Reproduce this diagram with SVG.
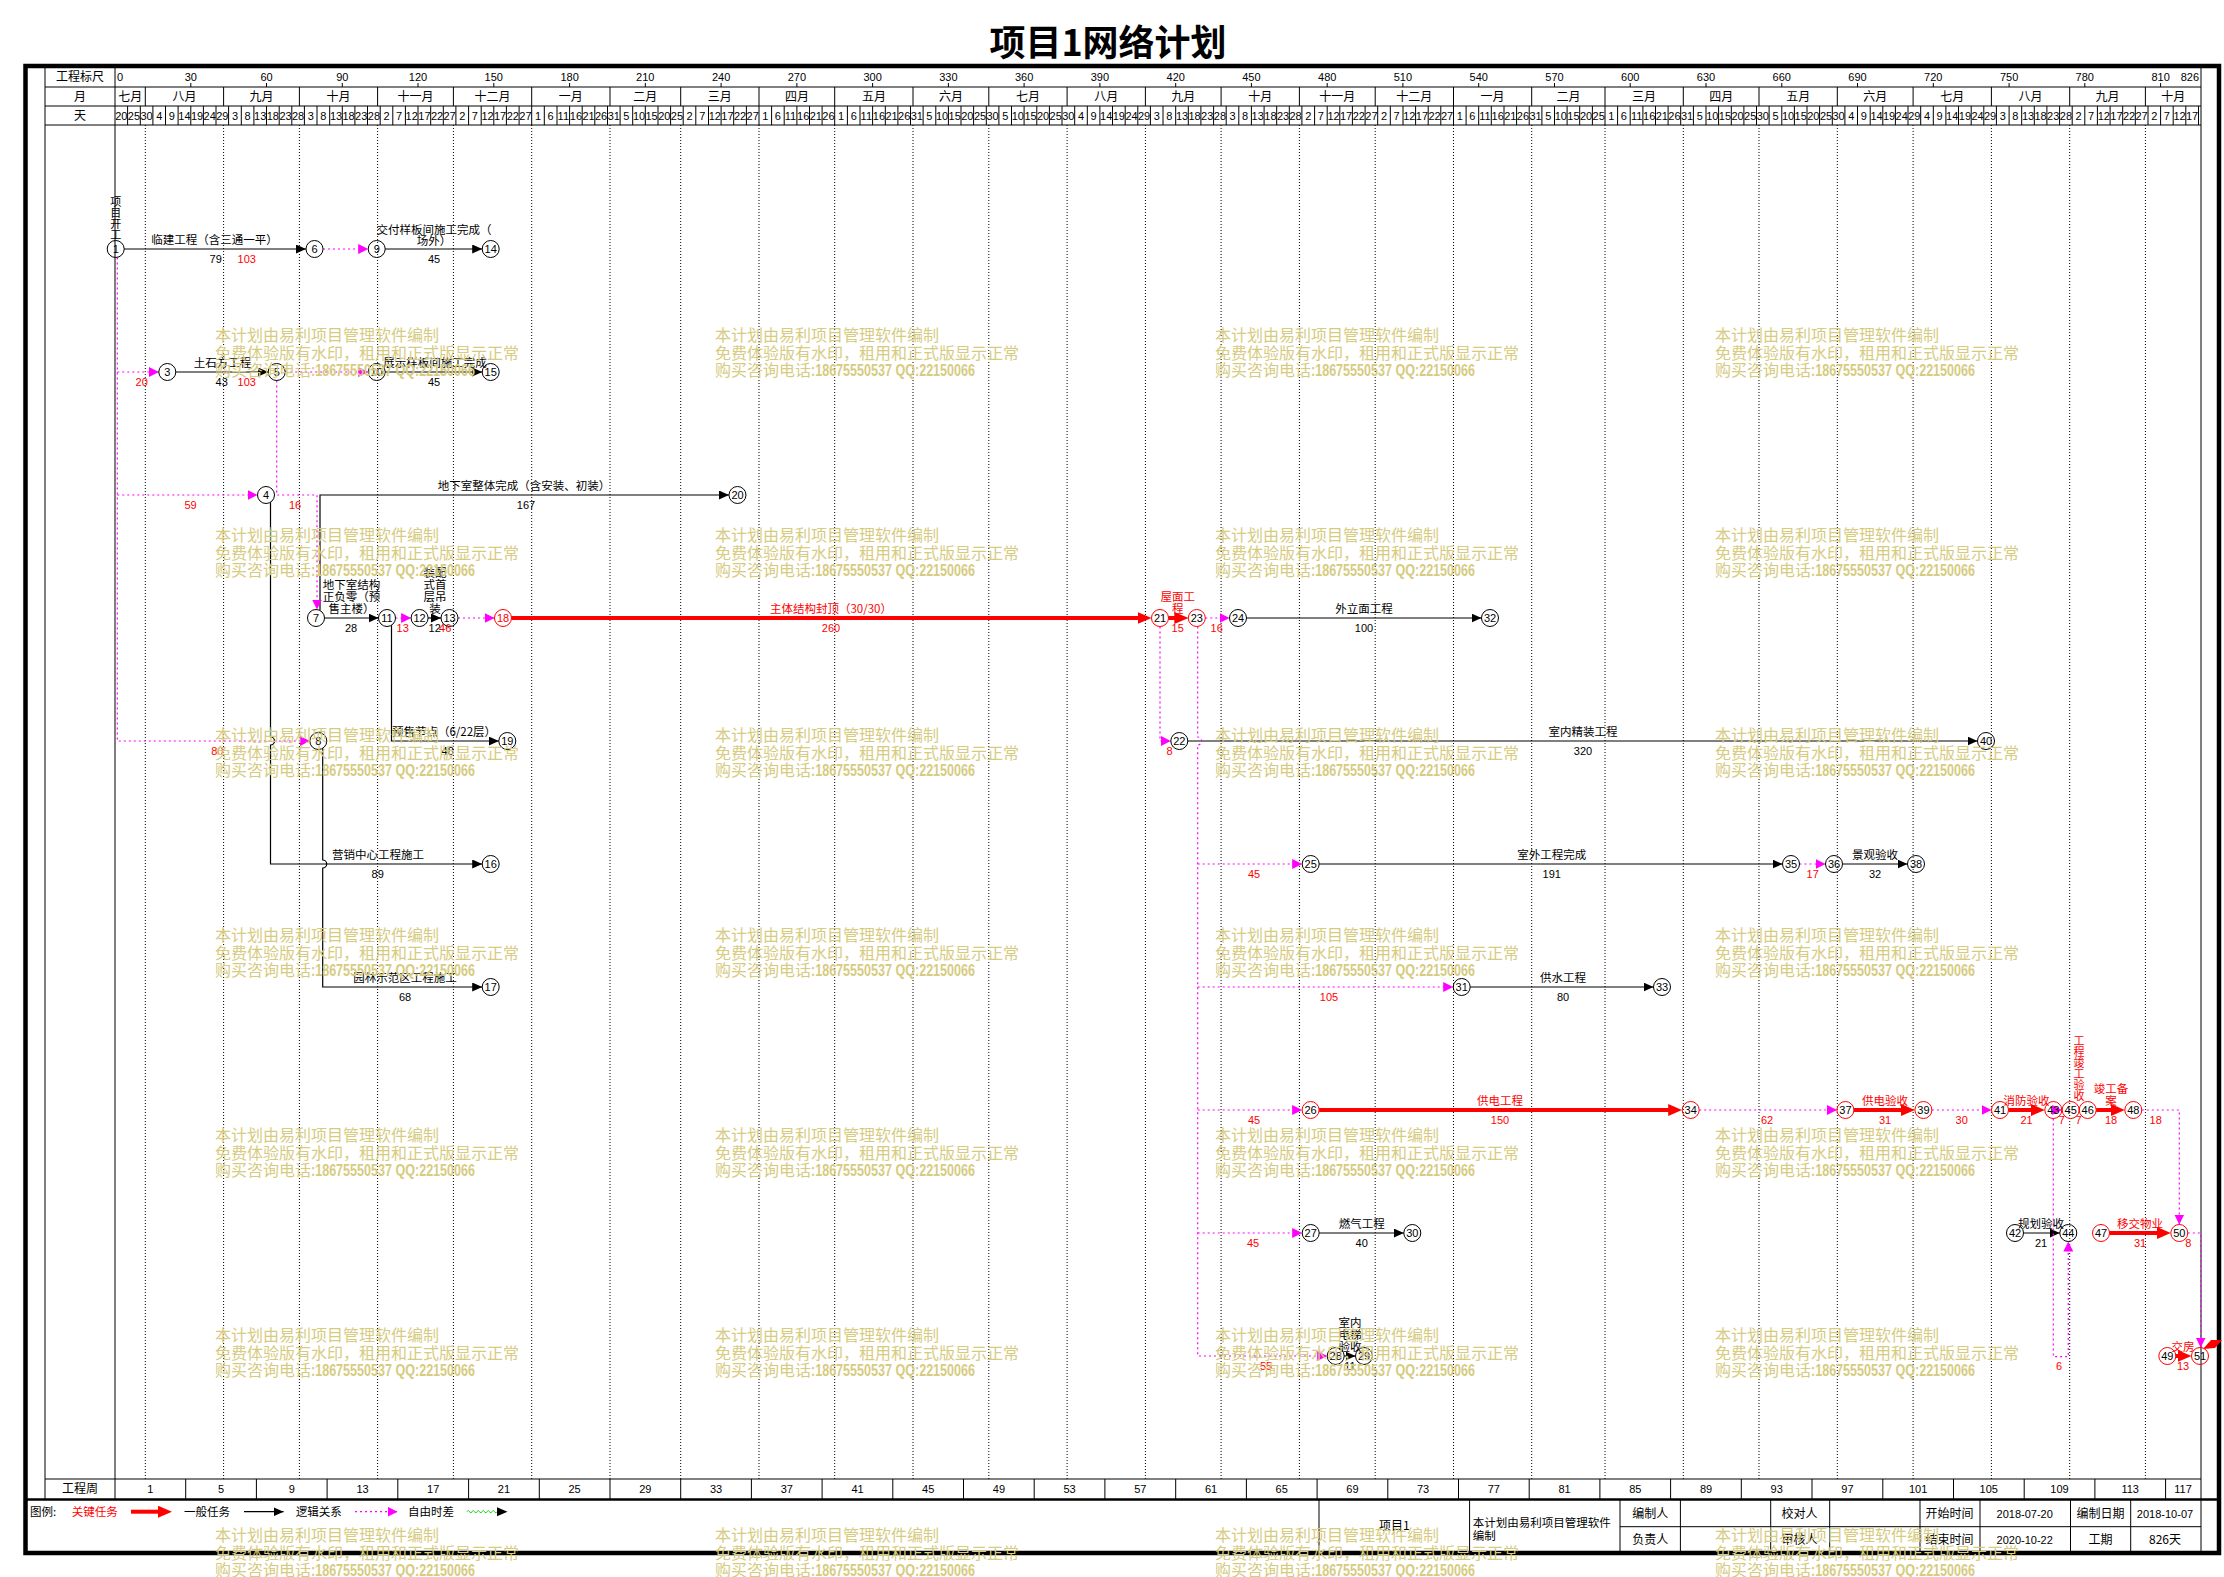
<svg xmlns="http://www.w3.org/2000/svg" xmlns:xlink="http://www.w3.org/1999/xlink" width="2224" height="1577" viewBox="0 0 2224 1577">
<style>
.t{font-family:"Noto Sans CJK SC",sans-serif;font-size:11.5px;fill:#000}
.h{font-family:"Noto Sans CJK SC",sans-serif;font-size:12px;fill:#000;text-anchor:middle}
.n{font-family:"Liberation Sans Narrow","Liberation Sans",sans-serif;font-size:11px;fill:#000}
.r{fill:#f00}
.m{text-anchor:middle}
.v{writing-mode:vertical-rl;font-size:11px}
.nc{fill:none;stroke:#000;stroke-width:1}
.nrc{fill:none;stroke:#f00;stroke-width:1}
.e{fill:none;stroke:#000;stroke-width:1.2;marker-end:url(#ab)}
.c{fill:none;stroke:#f00;stroke-width:4;marker-end:url(#ar)}
.d{fill:none;stroke:#f0f;stroke-width:1.2;stroke-dasharray:2 3;marker-end:url(#am)}
.ln{fill:none;stroke:#000;stroke-width:1}
.g{fill:none;stroke:#000;stroke-width:1;stroke-dasharray:1 2}
.wm text{font-family:"Liberation Sans","Noto Sans CJK SC",sans-serif;font-size:16px;fill:#d6cb7f}
</style>
<defs>
<marker id="ab" markerUnits="userSpaceOnUse" markerWidth="11" markerHeight="9" refX="10" refY="4.5" orient="auto"><path d="M0,0L10,4.5L0,9z" fill="#000"/></marker>
<marker id="am" markerUnits="userSpaceOnUse" markerWidth="11" markerHeight="10" refX="10" refY="5" orient="auto"><path d="M0,0L10,5L0,10z" fill="#f0f"/></marker>
<marker id="ar" markerUnits="userSpaceOnUse" markerWidth="14" markerHeight="12" refX="5" refY="6" orient="auto"><path d="M0,0L14,6L0,12z" fill="#f00"/></marker>
<g id="wm" class="wm">
<text x="0" y="0">本计划由易利项目管理软件编制</text>
<text x="0" y="17.5">免费体验版有水印，租用和正式版显示正常</text>
<text x="0" y="35">购买咨询电话</text>
<text x="96" y="35" font-weight="bold" textLength="164" lengthAdjust="spacingAndGlyphs">:18675550537 QQ:22150066</text>
</g>
</defs>
<rect width="2224" height="1577" fill="#fff"/>
<text x="1108" y="56" font-family="Noto Sans CJK SC,sans-serif" font-size="36" font-weight="bold" text-anchor="middle">项目1网络计划</text>

<g id="frame">
<rect x="25.5" y="66" width="2193.5" height="1487" fill="none" stroke="#000" stroke-width="4.5"/>
<path class="ln" d="M45,87H2201M45,106H2201M45,125H2201M45,1479H2201M45,66V1499M115,66V1499M2201,66V1553"/>
<path d="M25,1499.5H2219" stroke="#000" stroke-width="2.5"/>
<path class="ln" d="M190.8,83V87M266.5,83V87M342.3,83V87M418,83V87M493.8,83V87M569.6,83V87M645.3,83V87M721.1,83V87M796.9,83V87M872.6,83V87M948.4,83V87M1024.1,83V87M1099.9,83V87M1175.7,83V87M1251.4,83V87M1327.2,83V87M1402.9,83V87M1478.7,83V87M1554.5,83V87M1630.2,83V87M1706,83V87M1781.8,83V87M1857.5,83V87M1933.3,83V87M2009.1,83V87M2084.8,83V87M2160.6,83V87"/>
<path class="ln" d="M145.3,87V106M223.6,87V106M299.4,87V106M377.6,87V106M453.4,87V106M531.7,87V106M610,87V106M680.7,87V106M759,87V106M834.7,87V106M913,87V106M988.8,87V106M1067.1,87V106M1145.4,87V106M1221.1,87V106M1299.4,87V106M1375.2,87V106M1453.5,87V106M1531.7,87V106M1605,87V106M1683.3,87V106M1759,87V106M1837.3,87V106M1913.1,87V106M1991.4,87V106M2069.7,87V106M2145.4,87V106"/>
<path class="ln" d="M127.6,106V125M140.3,106V125M152.9,106V125M165.5,106V125M178.1,106V125M190.8,106V125M203.4,106V125M216,106V125M228.6,106V125M241.3,106V125M253.9,106V125M266.5,106V125M279.2,106V125M291.8,106V125M304.4,106V125M317,106V125M329.7,106V125M342.3,106V125M354.9,106V125M367.5,106V125M380.2,106V125M392.8,106V125M405.4,106V125M418,106V125M430.7,106V125M443.3,106V125M455.9,106V125M468.6,106V125M481.2,106V125M493.8,106V125M506.4,106V125M519.1,106V125M531.7,106V125M544.3,106V125M557,106V125M569.6,106V125M582.2,106V125M594.8,106V125M607.5,106V125M620.1,106V125M632.7,106V125M645.3,106V125M658,106V125M670.6,106V125M683.2,106V125M695.8,106V125M708.5,106V125M721.1,106V125M733.7,106V125M746.4,106V125M759,106V125M771.6,106V125M784.2,106V125M796.9,106V125M809.5,106V125M822.1,106V125M834.7,106V125M847.4,106V125M860,106V125M872.6,106V125M885.3,106V125M897.9,106V125M910.5,106V125M923.1,106V125M935.8,106V125M948.4,106V125M961,106V125M973.6,106V125M986.3,106V125M998.9,106V125M1011.5,106V125M1024.1,106V125M1036.8,106V125M1049.4,106V125M1062,106V125M1074.7,106V125M1087.3,106V125M1099.9,106V125M1112.5,106V125M1125.2,106V125M1137.8,106V125M1150.4,106V125M1163,106V125M1175.7,106V125M1188.3,106V125M1200.9,106V125M1213.6,106V125M1226.2,106V125M1238.8,106V125M1251.4,106V125M1264.1,106V125M1276.7,106V125M1289.3,106V125M1301.9,106V125M1314.6,106V125M1327.2,106V125M1339.8,106V125M1352.4,106V125M1365.1,106V125M1377.7,106V125M1390.3,106V125M1403,106V125M1415.6,106V125M1428.2,106V125M1440.8,106V125M1453.5,106V125M1466.1,106V125M1478.7,106V125M1491.3,106V125M1504,106V125M1516.6,106V125M1529.2,106V125M1541.9,106V125M1554.5,106V125M1567.1,106V125M1579.7,106V125M1592.4,106V125M1605,106V125M1617.6,106V125M1630.2,106V125M1642.9,106V125M1655.5,106V125M1668.1,106V125M1680.7,106V125M1693.4,106V125M1706,106V125M1718.6,106V125M1731.3,106V125M1743.9,106V125M1756.5,106V125M1769.1,106V125M1781.8,106V125M1794.4,106V125M1807,106V125M1819.6,106V125M1832.3,106V125M1844.9,106V125M1857.5,106V125M1870.2,106V125M1882.8,106V125M1895.4,106V125M1908,106V125M1920.7,106V125M1933.3,106V125M1945.9,106V125M1958.5,106V125M1971.2,106V125M1983.8,106V125M1996.4,106V125M2009.1,106V125M2021.7,106V125M2034.3,106V125M2046.9,106V125M2059.6,106V125M2072.2,106V125M2084.8,106V125M2097.4,106V125M2110.1,106V125M2122.7,106V125M2135.3,106V125M2148,106V125M2160.6,106V125M2173.2,106V125M2185.8,106V125M2198.5,106V125"/>
<path class="g" d="M145.3,125V1479M223.6,125V1479M299.4,125V1479M377.6,125V1479M453.4,125V1479M531.7,125V1479M610,125V1479M680.7,125V1479M759,125V1479M834.7,125V1479M913,125V1479M988.8,125V1479M1067.1,125V1479M1145.4,125V1479M1221.1,125V1479M1299.4,125V1479M1375.2,125V1479M1453.5,125V1479M1531.7,125V1479M1605,125V1479M1683.3,125V1479M1759,125V1479M1837.3,125V1479M1913.1,125V1479M1991.4,125V1479M2069.7,125V1479M2145.4,125V1479"/>
<path class="ln" d="M185.7,1479V1499M256.4,1479V1499M327.1,1479V1499M397.8,1479V1499M468.6,1479V1499M539.3,1479V1499M610,1479V1499M680.7,1479V1499M751.4,1479V1499M822.1,1479V1499M892.8,1479V1499M963.5,1479V1499M1034.2,1479V1499M1104.9,1479V1499M1175.7,1479V1499M1246.4,1479V1499M1317.1,1479V1499M1387.8,1479V1499M1458.5,1479V1499M1529.2,1479V1499M1599.9,1479V1499M1670.6,1479V1499M1741.3,1479V1499M1812,1479V1499M1882.8,1479V1499M1953.5,1479V1499M2024.2,1479V1499M2094.9,1479V1499M2165.6,1479V1499"/>
<path class="ln" d="M1319,1499.5V1553M1469.6,1499.5V1553M1620,1499.5V1553M1680.4,1499.5V1553M1770.7,1499.5V1553M1829.7,1499.5V1553M1920,1499.5V1553M1980,1499.5V1553M2070.5,1499.5V1553M2130.7,1499.5V1553M1620,1526.7H2201"/>
</g>

<g id="header-text">
<text class="h" x="80" y="80.5">工程标尺</text>
<text class="h" x="80" y="100.5">月</text>
<text class="h" x="80" y="119.5">天</text>
<text class="n" x="117" y="80.5">0</text>
<text class="n m" y="80.5"><tspan x="190.8">30</tspan><tspan x="266.5">60</tspan><tspan x="342.3">90</tspan><tspan x="418">120</tspan><tspan x="493.8">150</tspan><tspan x="569.6">180</tspan><tspan x="645.3">210</tspan><tspan x="721.1">240</tspan><tspan x="796.9">270</tspan><tspan x="872.6">300</tspan><tspan x="948.4">330</tspan><tspan x="1024.1">360</tspan><tspan x="1099.9">390</tspan><tspan x="1175.7">420</tspan><tspan x="1251.4">450</tspan><tspan x="1327.2">480</tspan><tspan x="1402.9">510</tspan><tspan x="1478.7">540</tspan><tspan x="1554.5">570</tspan><tspan x="1630.2">600</tspan><tspan x="1706">630</tspan><tspan x="1781.8">660</tspan><tspan x="1857.5">690</tspan><tspan x="1933.3">720</tspan><tspan x="2009.1">750</tspan><tspan x="2084.8">780</tspan><tspan x="2160.6">810</tspan></text>
<text class="n" x="2199" y="80.5" text-anchor="end">826</text>
<text class="h" y="100.5"><tspan x="130.2">七月</tspan><tspan x="184.5">八月</tspan><tspan x="261.5">九月</tspan><tspan x="338.5">十月</tspan><tspan x="415.5">十一月</tspan><tspan x="492.5">十二月</tspan><tspan x="570.8">一月</tspan><tspan x="645.3">二月</tspan><tspan x="719.8">三月</tspan><tspan x="796.9">四月</tspan><tspan x="873.9">五月</tspan><tspan x="950.9">六月</tspan><tspan x="1027.9">七月</tspan><tspan x="1106.2">八月</tspan><tspan x="1183.2">九月</tspan><tspan x="1260.3">十月</tspan><tspan x="1337.3">十一月</tspan><tspan x="1414.3">十二月</tspan><tspan x="1492.6">一月</tspan><tspan x="1568.4">二月</tspan><tspan x="1644.1">三月</tspan><tspan x="1721.2">四月</tspan><tspan x="1798.2">五月</tspan><tspan x="1875.2">六月</tspan><tspan x="1952.2">七月</tspan><tspan x="2030.5">八月</tspan><tspan x="2107.5">九月</tspan><tspan x="2173.2">十月</tspan></text>
<text class="n m" y="119.5" font-size="10.5"><tspan x="121.3">20</tspan><tspan x="133.9">25</tspan><tspan x="146.6">30</tspan><tspan x="159.2">4</tspan><tspan x="171.8">9</tspan><tspan x="184.4">14</tspan><tspan x="197.1">19</tspan><tspan x="209.7">24</tspan><tspan x="222.3">29</tspan><tspan x="235">3</tspan><tspan x="247.6">8</tspan><tspan x="260.2">13</tspan><tspan x="272.8">18</tspan><tspan x="285.5">23</tspan><tspan x="298.1">28</tspan><tspan x="310.7">3</tspan><tspan x="323.3">8</tspan><tspan x="336">13</tspan><tspan x="348.6">18</tspan><tspan x="361.2">23</tspan><tspan x="373.9">28</tspan><tspan x="386.5">2</tspan><tspan x="399.1">7</tspan><tspan x="411.7">12</tspan><tspan x="424.4">17</tspan><tspan x="437">22</tspan><tspan x="449.6">27</tspan><tspan x="462.2">2</tspan><tspan x="474.9">7</tspan><tspan x="487.5">12</tspan><tspan x="500.1">17</tspan><tspan x="512.8">22</tspan><tspan x="525.4">27</tspan><tspan x="538">1</tspan><tspan x="550.6">6</tspan><tspan x="563.3">11</tspan><tspan x="575.9">16</tspan><tspan x="588.5">21</tspan><tspan x="601.1">26</tspan><tspan x="613.8">31</tspan><tspan x="626.4">5</tspan><tspan x="639">10</tspan><tspan x="651.6">15</tspan><tspan x="664.3">20</tspan><tspan x="676.9">25</tspan><tspan x="689.5">2</tspan><tspan x="702.2">7</tspan><tspan x="714.8">12</tspan><tspan x="727.4">17</tspan><tspan x="740">22</tspan><tspan x="752.7">27</tspan><tspan x="765.3">1</tspan><tspan x="777.9">6</tspan><tspan x="790.5">11</tspan><tspan x="803.2">16</tspan><tspan x="815.8">21</tspan><tspan x="828.4">26</tspan><tspan x="841.1">1</tspan><tspan x="853.7">6</tspan><tspan x="866.3">11</tspan><tspan x="878.9">16</tspan><tspan x="891.6">21</tspan><tspan x="904.2">26</tspan><tspan x="916.8">31</tspan><tspan x="929.4">5</tspan><tspan x="942.1">10</tspan><tspan x="954.7">15</tspan><tspan x="967.3">20</tspan><tspan x="980">25</tspan><tspan x="992.6">30</tspan><tspan x="1005.2">5</tspan><tspan x="1017.8">10</tspan><tspan x="1030.5">15</tspan><tspan x="1043.1">20</tspan><tspan x="1055.7">25</tspan><tspan x="1068.3">30</tspan><tspan x="1081">4</tspan><tspan x="1093.6">9</tspan><tspan x="1106.2">14</tspan><tspan x="1118.8">19</tspan><tspan x="1131.5">24</tspan><tspan x="1144.1">29</tspan><tspan x="1156.7">3</tspan><tspan x="1169.4">8</tspan><tspan x="1182">13</tspan><tspan x="1194.6">18</tspan><tspan x="1207.2">23</tspan><tspan x="1219.9">28</tspan><tspan x="1232.5">3</tspan><tspan x="1245.1">8</tspan><tspan x="1257.7">13</tspan><tspan x="1270.4">18</tspan><tspan x="1283">23</tspan><tspan x="1295.6">28</tspan><tspan x="1308.3">2</tspan><tspan x="1320.9">7</tspan><tspan x="1333.5">12</tspan><tspan x="1346.1">17</tspan><tspan x="1358.8">22</tspan><tspan x="1371.4">27</tspan><tspan x="1384">2</tspan><tspan x="1396.6">7</tspan><tspan x="1409.3">12</tspan><tspan x="1421.9">17</tspan><tspan x="1434.5">22</tspan><tspan x="1447.1">27</tspan><tspan x="1459.8">1</tspan><tspan x="1472.4">6</tspan><tspan x="1485">11</tspan><tspan x="1497.7">16</tspan><tspan x="1510.3">21</tspan><tspan x="1522.9">26</tspan><tspan x="1535.5">31</tspan><tspan x="1548.2">5</tspan><tspan x="1560.8">10</tspan><tspan x="1573.4">15</tspan><tspan x="1586">20</tspan><tspan x="1598.7">25</tspan><tspan x="1611.3">1</tspan><tspan x="1623.9">6</tspan><tspan x="1636.6">11</tspan><tspan x="1649.2">16</tspan><tspan x="1661.8">21</tspan><tspan x="1674.4">26</tspan><tspan x="1687.1">31</tspan><tspan x="1699.7">5</tspan><tspan x="1712.3">10</tspan><tspan x="1724.9">15</tspan><tspan x="1737.6">20</tspan><tspan x="1750.2">25</tspan><tspan x="1762.8">30</tspan><tspan x="1775.5">5</tspan><tspan x="1788.1">10</tspan><tspan x="1800.7">15</tspan><tspan x="1813.3">20</tspan><tspan x="1826">25</tspan><tspan x="1838.6">30</tspan><tspan x="1851.2">4</tspan><tspan x="1863.8">9</tspan><tspan x="1876.5">14</tspan><tspan x="1889.1">19</tspan><tspan x="1901.7">24</tspan><tspan x="1914.3">29</tspan><tspan x="1927">4</tspan><tspan x="1939.6">9</tspan><tspan x="1952.2">14</tspan><tspan x="1964.9">19</tspan><tspan x="1977.5">24</tspan><tspan x="1990.1">29</tspan><tspan x="2002.7">3</tspan><tspan x="2015.4">8</tspan><tspan x="2028">13</tspan><tspan x="2040.6">18</tspan><tspan x="2053.2">23</tspan><tspan x="2065.9">28</tspan><tspan x="2078.5">2</tspan><tspan x="2091.1">7</tspan><tspan x="2103.8">12</tspan><tspan x="2116.4">17</tspan><tspan x="2129">22</tspan><tspan x="2141.6">27</tspan><tspan x="2154.3">2</tspan><tspan x="2166.9">7</tspan><tspan x="2179.5">12</tspan><tspan x="2192.1">17</tspan></text>
<text class="h" x="80" y="1493">工程周</text>
<text class="n m" y="1493"><tspan x="150.4">1</tspan><tspan x="221.1">5</tspan><tspan x="291.8">9</tspan><tspan x="362.5">13</tspan><tspan x="433.2">17</tspan><tspan x="503.9">21</tspan><tspan x="574.6">25</tspan><tspan x="645.3">29</tspan><tspan x="716">33</tspan><tspan x="786.8">37</tspan><tspan x="857.5">41</tspan><tspan x="928.2">45</tspan><tspan x="998.9">49</tspan><tspan x="1069.6">53</tspan><tspan x="1140.3">57</tspan><tspan x="1211">61</tspan><tspan x="1281.7">65</tspan><tspan x="1352.4">69</tspan><tspan x="1423.1">73</tspan><tspan x="1493.8">77</tspan><tspan x="1564.6">81</tspan><tspan x="1635.3">85</tspan><tspan x="1706">89</tspan><tspan x="1776.7">93</tspan><tspan x="1847.4">97</tspan><tspan x="1918.1">101</tspan><tspan x="1988.8">105</tspan><tspan x="2059.5">109</tspan><tspan x="2130.2">113</tspan><tspan x="2183">117</tspan></text>
</g>

<g id="legend">
<text class="t" x="30" y="1516">图例:</text>
<text class="t r" x="71.7" y="1516">关键任务</text>
<path class="c" d="M131,1511.7H163"/>
<text class="t" x="184" y="1516">一般任务</text>
<path class="e" d="M244,1511.7H283.6"/>
<text class="t" x="295.7" y="1516">逻辑关系</text>
<path class="d" d="M355,1511.7H397.5"/>
<text class="t" x="408" y="1516">自由时差</text>
<path d="M467,1511.7q1.25,-2.5 2.5,0t2.5,0t2.5,0t2.5,0t2.5,0t2.5,0t2.5,0t2.5,0t2.5,0t2.5,0t2.5,0t2.5,0" fill="none" stroke="#0c0" stroke-width="1"/>
<path d="M497,1507.2L507.5,1511.7L497,1516.2z" fill="#000"/>
</g>

<g id="title-block">
<text class="h" x="1394.4" y="1530">项目1</text>
<text class="t" x="1472.7" y="1526.7">本计划由易利项目管理软件</text>
<text class="t" x="1472.7" y="1540.4">编制</text>
<text class="h" x="1650.3" y="1518.4">编制人</text>
<text class="h" x="1650.3" y="1544.4">负责人</text>
<text class="h" x="1799.6" y="1518.4">校对人</text>
<text class="h" x="1799.6" y="1544.4">审核人</text>
<text class="h" x="1949.5" y="1518.4">开始时间</text>
<text class="h" x="1949.5" y="1544.4">结束时间</text>
<text class="n m" x="2024.7" y="1518.4">2018-07-20</text>
<text class="n m" x="2024.7" y="1544.4">2020-10-22</text>
<text class="h" x="2100.6" y="1518.4">编制日期</text>
<text class="h" x="2100.6" y="1544.4">工期</text>
<text class="n m" x="2165" y="1518.4">2018-10-07</text>
<text class="h" x="2165" y="1544.4">826天</text>
</g>

<g id="connectors">
<path class="e" d="M124.2,249H306"/>
<path class="e" d="M385.2,249H482.2"/>
<path class="e" d="M175.8,372H268.2"/>
<path class="e" d="M385.2,372H482.2"/>
<path class="e" d="M320,610.5V495H729"/>
<path class="e" d="M324.5,618H378.5"/>
<path class="e" d="M428.1,618H441"/>
<path class="e" d="M1246.5,618H1481.5"/>
<path class="e" d="M391.5,625.2V741H498.8"/>
<path class="e" d="M1187.8,741H1977.5"/>
<path class="e" d="M270.5,502.2V737A4,4 0 0 1 270.5,745V864H482.2"/>
<path class="e" d="M322.7,748.3V860A4,4 0 0 1 322.7,868V987H482.2"/>
<path class="e" d="M1319.2,864H1782.5"/>
<path class="e" d="M1842.5,864H1907.5"/>
<path class="e" d="M1470.2,987H1653.5"/>
<path class="e" d="M1319.2,1233H1403.8"/>
<path class="e" d="M2023.5,1233H2059.8"/>
<path class="e" d="M1344.2,1356H1355.5"/>
<path class="c" d="M511.5,618H1142.5"/>
<path class="c" d="M1168.5,618H1179.3"/>
<path class="c" d="M1319.1,1110H1673.2"/>
<path class="c" d="M1853.9,1110H1905.9"/>
<path class="c" d="M2008.5,1110H2035.8"/>
<path class="c" d="M2096.2,1110H2115.8"/>
<path class="c" d="M2109.5,1233H2161.8"/>
<path class="c" d="M2175.8,1356H2182.5"/>
<path class="d" d="M323,249H368.2"/>
<path class="d" d="M117.3,257.5V741H309.8"/>
<path class="d" d="M117.3,372H158.8"/>
<path class="d" d="M117.3,495H257.5"/>
<path class="d" d="M285.2,372H368.2"/>
<path class="d" d="M276.7,380.5V495H317V609.5"/>
<path class="d" d="M395.5,618H411.1"/>
<path class="d" d="M458,618H494.5"/>
<path class="d" d="M1205.3,618H1229.5"/>
<path class="d" d="M1160,626.5V741H1170.8"/>
<path class="d" d="M1197.7,626.5V737A4,4 0 0 1 1197.7,745V1356H1327.2"/>
<path class="d" d="M1197.7,864H1302.2"/>
<path class="d" d="M1197.7,987H1453.2"/>
<path class="d" d="M1197.7,1110H1302.1"/>
<path class="d" d="M1197.7,1233H1302.2"/>
<path class="d" d="M1799.5,864H1825.5"/>
<path class="d" d="M1699.2,1110H1836.9"/>
<path class="d" d="M1931.9,1110H1991.5"/>
<path class="d" d="M2052,1110H2062.2"/>
<path class="d" d="M2053.3,1118.5V1356.7H2068.3V1241.5"/>
<path class="d" d="M2141.8,1110H2179.3V1224.5"/>
<path class="d" d="M2187.8,1233H2200.7V1347.5"/>
<path d="M2203,1349L2211,1340H2222L2215,1348z" fill="#f00"/>
</g>

<g id="edge-labels">
<text class="t m" x="214.5" y="244.4">临建工程（含三通一平）</text>
<text class="n m" x="215.7" y="263.3">79</text>
<text class="n m r" x="246.7" y="263.3">103</text>
<text class="t m" x="434" y="233.7">交付样板间施工完成（</text>
<text class="t m" x="434" y="245.4">场外）</text>
<text class="n m" x="434" y="263.3">45</text>
<text class="t m" x="222.5" y="367.4">土石方工程</text>
<text class="n m" x="221.7" y="386.3">43</text>
<text class="n m r" x="246.7" y="386.3">103</text>
<text class="n m r" x="141.7" y="386.3">20</text>
<text class="t m" x="435" y="367.4">展示样板间施工完成</text>
<text class="n m" x="434" y="386.3">45</text>
<text class="n m r" x="190.6" y="509.3">59</text>
<text class="n m r" x="295" y="509.3">16</text>
<text class="t m" x="524" y="490.4">地下室整体完成（含安装、初装）</text>
<text class="n m" x="526" y="509.3">167</text>
<text class="t m" x="351.5" y="589.4">地下室结构</text>
<text class="t m" x="351.5" y="601.4">正负零（预</text>
<text class="t m" x="351.5" y="613.4">售主楼）</text>
<text class="n m" x="351" y="632">28</text>
<text class="n m r" x="402.7" y="632">13</text>
<text class="t m" x="435" y="577.4">装配</text>
<text class="t m" x="435" y="589.4">式首</text>
<text class="t m" x="435" y="601.4">层吊</text>
<text class="t m" x="435" y="613.4">装</text>
<text class="n m" x="434.7" y="632">12</text>
<text class="n m r" x="445.2" y="632">46</text>
<text class="t m r" x="831" y="613.4">主体结构封顶（30/30）</text>
<text class="n m r" x="831" y="632">260</text>
<text class="t m r" x="1177.7" y="601.4">屋面工</text>
<text class="t m r" x="1177.7" y="613.4">程</text>
<text class="n m r" x="1177.7" y="632">15</text>
<text class="n m r" x="1216.7" y="632">16</text>
<text class="t m" x="1364" y="613.4">外立面工程</text>
<text class="n m" x="1364" y="632">100</text>
<text class="n m r" x="217.3" y="755">80</text>
<text class="t m" x="444" y="736.4">预售节点（6/22层）</text>
<text class="n m" x="447.7" y="755">48</text>
<text class="n m r" x="1169.5" y="755">8</text>
<text class="t m" x="1583" y="736.4">室内精装工程</text>
<text class="n m" x="1583" y="755">320</text>
<text class="t m" x="378" y="859.4">营销中心工程施工</text>
<text class="n m" x="377.7" y="878">89</text>
<text class="n m r" x="1254" y="878">45</text>
<text class="t m" x="1551.7" y="859.4">室外工程完成</text>
<text class="n m" x="1551.7" y="878">191</text>
<text class="n m r" x="1812.7" y="878">17</text>
<text class="t m" x="1875" y="859.4">景观验收</text>
<text class="n m" x="1875" y="878">32</text>
<text class="t m" x="405" y="982.4">园林示范区工程施工</text>
<text class="n m" x="405" y="1001">68</text>
<text class="n m r" x="1329" y="1001">105</text>
<text class="t m" x="1563" y="982.4">供水工程</text>
<text class="n m" x="1563" y="1001">80</text>
<text class="n m r" x="1254" y="1124">45</text>
<text class="t m r" x="1500" y="1105.4">供电工程</text>
<text class="n m r" x="1500" y="1124">150</text>
<text class="n m r" x="1767" y="1124">62</text>
<text class="t m r" x="1885" y="1105.4">供电验收</text>
<text class="n m r" x="1885" y="1124">31</text>
<text class="n m r" x="1961.7" y="1124">30</text>
<text class="t m r" x="2026.5" y="1105.4">消防验收</text>
<text class="n m r" x="2026.5" y="1124">21</text>
<text class="n m r" x="2061.7" y="1124">7</text>
<text class="t r v" x="2079" y="1035">工程竣工验收</text>
<text class="n m r" x="2078.5" y="1124">7</text>
<text class="t m r" x="2111" y="1093.4">竣工备</text>
<text class="t m r" x="2111" y="1105.4">案</text>
<text class="n m r" x="2111" y="1124">18</text>
<text class="n m r" x="2155.7" y="1124">18</text>
<text class="n m r" x="1253" y="1247">45</text>
<text class="t m" x="1361.7" y="1228.4">燃气工程</text>
<text class="n m" x="1361.7" y="1247">40</text>
<text class="t m" x="2041" y="1228.4">规划验收</text>
<text class="n m" x="2041" y="1247">21</text>
<text class="t m r" x="2140" y="1228.4">移交物业</text>
<text class="n m r" x="2140" y="1247">31</text>
<text class="n m r" x="2188.3" y="1247">8</text>
<text class="n m r" x="1266" y="1370">55</text>
<text class="t m" x="1350" y="1327.4">室内</text>
<text class="t m" x="1350" y="1339.4">电梯</text>
<text class="t m" x="1350" y="1351.4">验收</text>
<text class="n m" x="1350" y="1370">11</text>
<text class="t m r" x="2183" y="1351">交房</text>
<text class="n m r" x="2183" y="1370">13</text>
<text class="n m r" x="2059" y="1370">6</text>
<text class="t v" x="115.7" y="196">项目开工</text>
</g>

<g id="nodes">
<g id="node-1"><circle class="nc" cx="115.7" cy="249" r="8.5"/><text class="n m" x="115.7" y="253">1</text></g>
<g id="node-6"><circle class="nc" cx="314.5" cy="249" r="8.5"/><text class="n m" x="314.5" y="253">6</text></g>
<g id="node-9"><circle class="nc" cx="376.7" cy="249" r="8.5"/><text class="n m" x="376.7" y="253">9</text></g>
<g id="node-14"><circle class="nc" cx="490.7" cy="249" r="8.5"/><text class="n m" x="490.7" y="253">14</text></g>
<g id="node-3"><circle class="nc" cx="167.3" cy="372" r="8.5"/><text class="n m" x="167.3" y="376">3</text></g>
<g id="node-5"><circle class="nc" cx="276.7" cy="372" r="8.5"/><text class="n m" x="276.7" y="376">5</text></g>
<g id="node-10"><circle class="nc" cx="376.7" cy="372" r="8.5"/><text class="n m" x="376.7" y="376">10</text></g>
<g id="node-15"><circle class="nc" cx="490.7" cy="372" r="8.5"/><text class="n m" x="490.7" y="376">15</text></g>
<g id="node-4"><circle class="nc" cx="266" cy="495" r="8.5"/><text class="n m" x="266" y="499">4</text></g>
<g id="node-20"><circle class="nc" cx="737.5" cy="495" r="8.5"/><text class="n m" x="737.5" y="499">20</text></g>
<g id="node-7"><circle class="nc" cx="316" cy="618" r="8.5"/><text class="n m" x="316" y="622">7</text></g>
<g id="node-11"><circle class="nc" cx="387" cy="618" r="8.5"/><text class="n m" x="387" y="622">11</text></g>
<g id="node-12"><circle class="nc" cx="419.6" cy="618" r="8.5"/><text class="n m" x="419.6" y="622">12</text></g>
<g id="node-13"><circle class="nc" cx="449.5" cy="618" r="8.5"/><text class="n m" x="449.5" y="622">13</text></g>
<g id="node-18"><circle class="nrc" cx="503" cy="618" r="8.5"/><text class="n m r" x="503" y="622">18</text></g>
<g id="node-21"><circle class="nrc" cx="1160" cy="618" r="8.5"/><text class="n m" x="1160" y="622">21</text></g>
<g id="node-23"><circle class="nrc" cx="1196.8" cy="618" r="8.5"/><text class="n m" x="1196.8" y="622">23</text></g>
<g id="node-24"><circle class="nc" cx="1238" cy="618" r="8.5"/><text class="n m" x="1238" y="622">24</text></g>
<g id="node-32"><circle class="nc" cx="1490" cy="618" r="8.5"/><text class="n m" x="1490" y="622">32</text></g>
<g id="node-8"><circle class="nc" cx="318.3" cy="741" r="8.5"/><text class="n m" x="318.3" y="745">8</text></g>
<g id="node-19"><circle class="nc" cx="507.3" cy="741" r="8.5"/><text class="n m" x="507.3" y="745">19</text></g>
<g id="node-22"><circle class="nc" cx="1179.3" cy="741" r="8.5"/><text class="n m" x="1179.3" y="745">22</text></g>
<g id="node-40"><circle class="nc" cx="1986" cy="741" r="8.5"/><text class="n m" x="1986" y="745">40</text></g>
<g id="node-16"><circle class="nc" cx="490.7" cy="864" r="8.5"/><text class="n m" x="490.7" y="868">16</text></g>
<g id="node-25"><circle class="nc" cx="1310.7" cy="864" r="8.5"/><text class="n m" x="1310.7" y="868">25</text></g>
<g id="node-35"><circle class="nc" cx="1791" cy="864" r="8.5"/><text class="n m" x="1791" y="868">35</text></g>
<g id="node-36"><circle class="nc" cx="1834" cy="864" r="8.5"/><text class="n m" x="1834" y="868">36</text></g>
<g id="node-38"><circle class="nc" cx="1916" cy="864" r="8.5"/><text class="n m" x="1916" y="868">38</text></g>
<g id="node-17"><circle class="nc" cx="490.7" cy="987" r="8.5"/><text class="n m" x="490.7" y="991">17</text></g>
<g id="node-31"><circle class="nc" cx="1461.7" cy="987" r="8.5"/><text class="n m" x="1461.7" y="991">31</text></g>
<g id="node-33"><circle class="nc" cx="1662" cy="987" r="8.5"/><text class="n m" x="1662" y="991">33</text></g>
<g id="node-26"><circle class="nrc" cx="1310.6" cy="1110" r="8.5"/><text class="n m" x="1310.6" y="1114">26</text></g>
<g id="node-34"><circle class="nrc" cx="1690.7" cy="1110" r="8.5"/><text class="n m" x="1690.7" y="1114">34</text></g>
<g id="node-37"><circle class="nrc" cx="1845.4" cy="1110" r="8.5"/><text class="n m" x="1845.4" y="1114">37</text></g>
<g id="node-39"><circle class="nrc" cx="1923.4" cy="1110" r="8.5"/><text class="n m" x="1923.4" y="1114">39</text></g>
<g id="node-41"><circle class="nrc" cx="2000" cy="1110" r="8.5"/><text class="n m" x="2000" y="1114">41</text></g>
<g id="node-43"><circle class="nrc" cx="2053.3" cy="1110" r="8.5"/><text class="n m" x="2053.3" y="1114">43</text></g>
<g id="node-45"><circle class="nrc" cx="2070.7" cy="1110" r="8.5"/><text class="n m" x="2070.7" y="1114">45</text></g>
<g id="node-46"><circle class="nrc" cx="2087.7" cy="1110" r="8.5"/><text class="n m" x="2087.7" y="1114">46</text></g>
<g id="node-48"><circle class="nrc" cx="2133.3" cy="1110" r="8.5"/><text class="n m" x="2133.3" y="1114">48</text></g>
<g id="node-27"><circle class="nc" cx="1310.7" cy="1233" r="8.5"/><text class="n m" x="1310.7" y="1237">27</text></g>
<g id="node-30"><circle class="nc" cx="1412.3" cy="1233" r="8.5"/><text class="n m" x="1412.3" y="1237">30</text></g>
<g id="node-42"><circle class="nc" cx="2015" cy="1233" r="8.5"/><text class="n m" x="2015" y="1237">42</text></g>
<g id="node-44"><circle class="nc" cx="2068.3" cy="1233" r="8.5"/><text class="n m" x="2068.3" y="1237">44</text></g>
<g id="node-47"><circle class="nrc" cx="2101" cy="1233" r="8.5"/><text class="n m" x="2101" y="1237">47</text></g>
<g id="node-50"><circle class="nrc" cx="2179.3" cy="1233" r="8.5"/><text class="n m" x="2179.3" y="1237">50</text></g>
<g id="node-28"><circle class="nc" cx="1335.7" cy="1356" r="8.5"/><text class="n m" x="1335.7" y="1360">28</text></g>
<g id="node-29"><circle class="nc" cx="1364" cy="1356" r="8.5"/><text class="n m" x="1364" y="1360">29</text></g>
<g id="node-49"><circle class="nrc" cx="2167.3" cy="1356" r="8.5"/><text class="n m" x="2167.3" y="1360">49</text></g>
<g id="node-51"><circle class="nrc" cx="2200" cy="1356" r="8.5"/><text class="n m" x="2200" y="1360">51</text></g>
</g>

<g id="watermarks">
<use xlink:href="#wm" x="215" y="341"/><use xlink:href="#wm" x="715" y="341"/><use xlink:href="#wm" x="1215" y="341"/><use xlink:href="#wm" x="1715" y="341"/>
<use xlink:href="#wm" x="215" y="541"/><use xlink:href="#wm" x="715" y="541"/><use xlink:href="#wm" x="1215" y="541"/><use xlink:href="#wm" x="1715" y="541"/>
<use xlink:href="#wm" x="215" y="741"/><use xlink:href="#wm" x="715" y="741"/><use xlink:href="#wm" x="1215" y="741"/><use xlink:href="#wm" x="1715" y="741"/>
<use xlink:href="#wm" x="215" y="941"/><use xlink:href="#wm" x="715" y="941"/><use xlink:href="#wm" x="1215" y="941"/><use xlink:href="#wm" x="1715" y="941"/>
<use xlink:href="#wm" x="215" y="1141"/><use xlink:href="#wm" x="715" y="1141"/><use xlink:href="#wm" x="1215" y="1141"/><use xlink:href="#wm" x="1715" y="1141"/>
<use xlink:href="#wm" x="215" y="1341"/><use xlink:href="#wm" x="715" y="1341"/><use xlink:href="#wm" x="1215" y="1341"/><use xlink:href="#wm" x="1715" y="1341"/>
<use xlink:href="#wm" x="215" y="1541"/><use xlink:href="#wm" x="715" y="1541"/><use xlink:href="#wm" x="1215" y="1541"/><use xlink:href="#wm" x="1715" y="1541"/>
</g>
</svg>
